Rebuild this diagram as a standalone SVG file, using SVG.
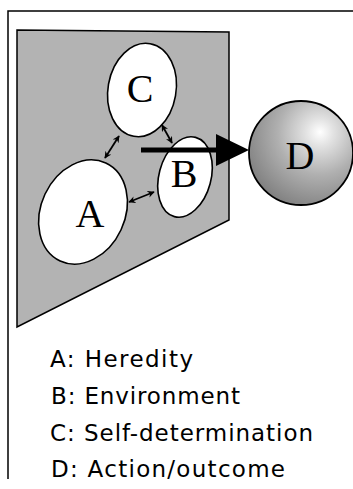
<svg xmlns="http://www.w3.org/2000/svg" width="353" height="489" viewBox="0 0 353 489">
  <style>
    .frame { fill: none; stroke: #000; stroke-width: 1.5; }
    .plane { fill: #b3b3b3; stroke: #000; stroke-width: 1.5; stroke-linejoin: miter; }
    .factor { fill: #fff; stroke: #000; stroke-width: 1.6; }
    .letter { font-family: "Liberation Serif", "DejaVu Serif", serif; font-size: 40px; fill: #000; text-anchor: middle; }
    .legend { font-family: "DejaVu Sans", "Liberation Sans", sans-serif; font-size: 23px; fill: #000; }
    .link { fill: none; stroke: #000; stroke-width: 1.8; marker-start: url(#tip); marker-end: url(#tip); }
  </style>
  <defs>
    <marker id="tip" viewBox="0 0 10 10" refX="9" refY="5" markerWidth="7" markerHeight="7" orient="auto-start-reverse" markerUnits="userSpaceOnUse">
      <path d="M0,0 L10,5 L0,10 L3,5 Z" fill="#000"/>
    </marker>
    <radialGradient id="ball" gradientUnits="userSpaceOnUse" cx="318" cy="135" r="92" fx="320" fy="132">
      <stop offset="0" stop-color="#ffffff"/>
      <stop offset="0.15" stop-color="#e2e2e2"/>
      <stop offset="0.45" stop-color="#b0b0b0"/>
      <stop offset="0.8" stop-color="#858585"/>
      <stop offset="1" stop-color="#6a6a6a"/>
    </radialGradient>
  </defs>

  <!-- outer frame -->
  <path class="frame" d="M8,479 V11 H353"/>

  <!-- shaded plane holding the three factors -->
  <polygon class="plane" points="17,30 229,32 229,220 17,327"/>

  <g id="node-A">
    <ellipse class="factor" cx="83" cy="212" rx="42" ry="54" transform="rotate(25 83 212)"/>
    <text class="letter" x="90" y="227">A</text>
  </g>
  <g id="node-C">
    <ellipse class="factor" cx="142" cy="90" rx="34" ry="47" transform="rotate(10 142 90)"/>
    <text class="letter" x="140" y="102">C</text>
  </g>
  <g id="node-B">
    <ellipse class="factor" cx="185" cy="177" rx="26" ry="41" transform="rotate(15 185 177)"/>
    <text class="letter" x="184" y="187">B</text>
  </g>
  <g id="node-D">
    <circle cx="301" cy="153" r="52" fill="url(#ball)" stroke="#000" stroke-width="1.8"/>
    <text class="letter" x="300" y="169">D</text>
  </g>

  <g id="connectors">
    <line class="link" x1="119" y1="136" x2="105" y2="158"/>
    <line class="link" x1="162" y1="125" x2="172" y2="143"/>
    <line class="link" x1="129" y1="202" x2="154" y2="192"/>
    <!-- main arrow to the outcome -->
    <line x1="141" y1="150" x2="218" y2="150" stroke="#000" stroke-width="5"/>
    <polygon points="216,134 249,150 216,166" fill="#000"/>
  </g>

  <g id="legend">
    <text class="legend" x="50" y="367" textLength="143" lengthAdjust="spacing">A: Heredity</text>
    <text class="legend" x="51" y="404" textLength="189" lengthAdjust="spacing">B: Environment</text>
    <text class="legend" x="50" y="441" textLength="263" lengthAdjust="spacing">C: Self-determination</text>
    <text class="legend" x="51" y="477" textLength="234" lengthAdjust="spacing">D: Action/outcome</text>
  </g>
</svg>
